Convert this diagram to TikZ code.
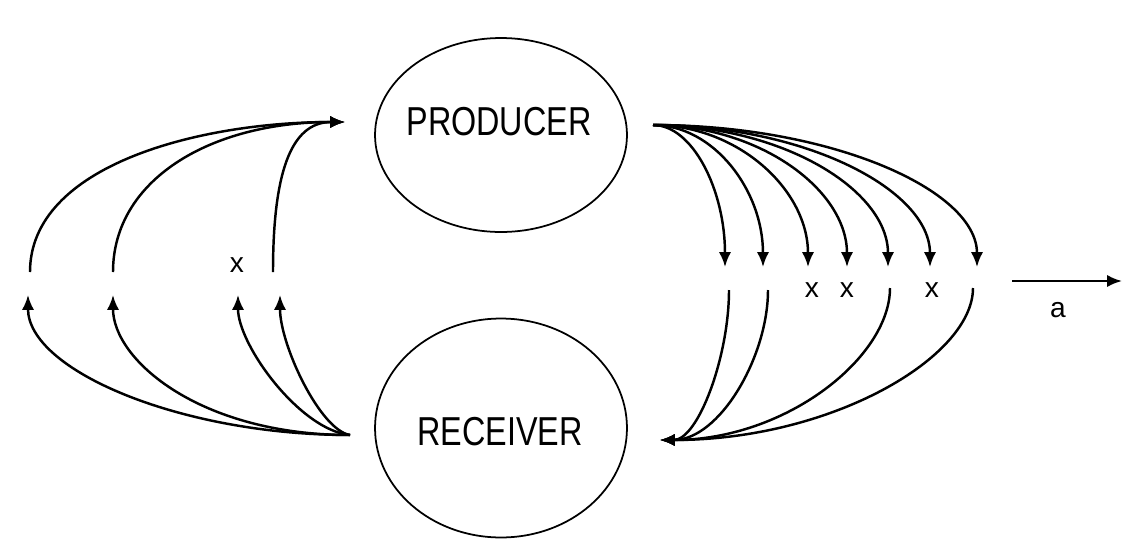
\documentclass[tikz,border=0pt]{standalone}
\usepackage{fontspec}
\setmainfont{Liberation Sans}
\newfontfamily\cond[FakeStretch=0.8]{Liberation Sans}
\usetikzlibrary{shapes.geometric,arrows.meta}
\begin{document}
\begin{tikzpicture}[x=0.02cm,y=-0.02cm,
  conn/.style={line width=1.4pt, -{Latex[length=8.5pt,width=7pt]}},
  bubble/.style={draw, line width=1pt, ellipse, minimum width=5.04cm, inner sep=0},
  lbl/.style={font=\cond\fontsize{23}{23}\selectfont, inner sep=0},
  xlbl/.style={font=\fontsize{16}{16}\selectfont, inner sep=0}]
\useasboundingbox (0,0) rectangle (1127,542);
% bubbles
\node[bubble, minimum height=3.88cm] (prod) at (501,135) {};
\node[lbl] (prodtxt) at (499,122) {PRODUCER};
\node[bubble, minimum height=4.38cm] (recv) at (501,428) {};
\node[lbl] (recvtxt) at (500,432) {RECEIVER};
% ports
\coordinate (pin) at (345,122);
\coordinate (rout) at (350,435);
\coordinate (pout) at (653,125);
\coordinate (rin) at (660,440);
% left upper
\coordinate (l1) at (30,272);
\coordinate (l2) at (113,272);
\coordinate (l3) at (273,272);
\draw[conn] (l1) .. controls (30,165) and (200,122) .. (pin);
\draw[conn] (l2) .. controls (113,180) and (210,122) .. (pin);
\draw[conn] (l3) .. controls (273,175) and (290,122) .. (pin);
% left lower
\coordinate (m1) at (28,295);
\coordinate (m2) at (113,295);
\coordinate (m3) at (238,295);
\coordinate (m4) at (280,295);
\draw[conn] (rout) .. controls (180,435) and (28,370) .. (m1);
\draw[conn] (rout) .. controls (200,435) and (113,360) .. (m2);
\draw[conn] (rout) .. controls (300,430) and (238,345) .. (m3);
\draw[conn] (rout) .. controls (320,430) and (280,345) .. (m4);
\node[xlbl] (xl) at (237,265) {x};
% right upper
\foreach \xi [count=\i] in {725,763,808,847,888,930,977}{
  \coordinate (d\i) at (\xi,267);
  \draw[conn] (pout) .. controls ({653+0.55*(\xi-653)},125) and (\xi,190) .. (d\i);
}
% right lower
\foreach \xi/\yi [count=\i] in {729/290,768/290,890/288,973/288}{
  \coordinate (u\i) at (\xi,\yi);
  \draw[conn] (u\i) .. controls (\xi,357) and ({660+0.55*(\xi-660)},440) .. (rin);
}
\node[xlbl] (x1) at (812,290) {x};
\node[xlbl] (x2) at (847,290) {x};
\node[xlbl] (x3) at (932,290) {x};
% arrow a
\coordinate (as) at (1012,281);
\coordinate (ae) at (1122,281);
\draw[conn] (as) -- (ae);
\node[xlbl] (albl) at (1058,310) {a};
\end{tikzpicture}
\end{document}
